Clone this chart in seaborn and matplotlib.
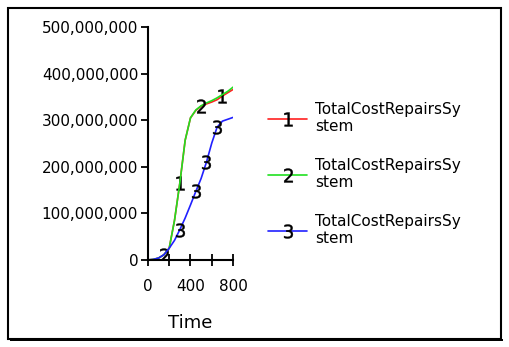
import seaborn as sns
import matplotlib.pyplot as plt
import matplotlib.ticker as mticker
from matplotlib.patches import Rectangle
import pandas as pd

time = [0, 50, 100, 150, 200, 250, 300, 350, 400, 450, 500, 550, 600, 650, 700, 750, 800]
# values in dollars (in millions)
run1 = [0, 1, 4, 11, 25, 85, 165, 257, 305, 321, 330, 335, 339, 344, 352, 359, 366]
run2 = [0, 1, 4, 11, 25, 85, 165, 257, 305, 322, 331, 337, 342, 348, 355, 362, 371]
run3 = [0, 1, 4, 11, 25, 42, 65, 90, 118, 147, 175, 210, 251, 285, 298, 302, 306]
run_names = ['1', '2', '3']
run_label = 'TotalCostRepairsSy\nstem'
colors = ['#ff2020', '#20e020', '#2020ff']
label_points = [[6, 14], [3, 10], [6, 9, 11, 13]]

df = pd.DataFrame({'time': time * 3,
                   'cost': [v * 1e6 for v in run1 + run2 + run3],
                   'run': [n for n in run_names for _ in time]})

sns.set_style('white')
plt.rcParams['font.family'] = ['DejaVu Sans']
plt.rcParams['text.color'] = 'black'
plt.rcParams['xtick.color'] = 'black'
plt.rcParams['ytick.color'] = 'black'
plt.rcParams['axes.labelcolor'] = 'black'

fig = plt.figure(figsize=(5.1, 3.47), dpi=100)
ax = fig.add_axes([0.290, 0.251, 0.167, 0.671])

for name, col, idx in zip(run_names, colors, label_points):
    sns.lineplot(data=df[df['run'] == name], x='time', y='cost', ax=ax,
                 color=col, lw=1.2, label=run_label,
                 marker='$' + name + '$', markevery=idx, markersize=10,
                 markerfacecolor='black', markeredgecolor='black', markeredgewidth=0.3)

ax.set_xlim(0, 800)
ax.set_ylim(0, 500e6)
ax.set_xticks([0, 200, 400, 600, 800])
ax.set_xticklabels(['0', '', '400', '', '800'])
ax.set_yticks([0, 100e6, 200e6, 300e6, 400e6, 500e6])
ax.yaxis.set_major_formatter(mticker.FuncFormatter(lambda v, p: f'{int(v):,}'))
ax.tick_params(axis='y', direction='out', length=5, width=1.3, labelsize=11, pad=2, left=True)
ax.tick_params(axis='x', direction='inout', length=8, width=1.3, labelsize=11, pad=10, bottom=True)
for s in ['top', 'right']:
    ax.spines[s].set_visible(False)
for s in ['left', 'bottom']:
    ax.spines[s].set_linewidth(1.5)
    ax.spines[s].set_color('black')
ax.set_xlabel('Time', fontsize=13, labelpad=14)
ax.set_ylabel('')

leg = ax.legend(loc='upper left', bbox_to_anchor=(254 / 510, 1 - 88 / 347),
                bbox_transform=fig.transFigure, frameon=False, fontsize=11,
                handlelength=2.6, handletextpad=0.5, labelspacing=1.55, numpoints=1)

fig.add_artist(Rectangle((8 / 510, 8 / 347), 493 / 510, 331 / 347,
                         transform=fig.transFigure, fill=False, lw=1.5, ec='black'))
fig.add_artist(Rectangle((10 / 510, 6 / 347), 493 / 510, 2 / 347,
                         transform=fig.transFigure, fill=True, lw=0, fc='black'))

fig.savefig('out.png', dpi=100)
